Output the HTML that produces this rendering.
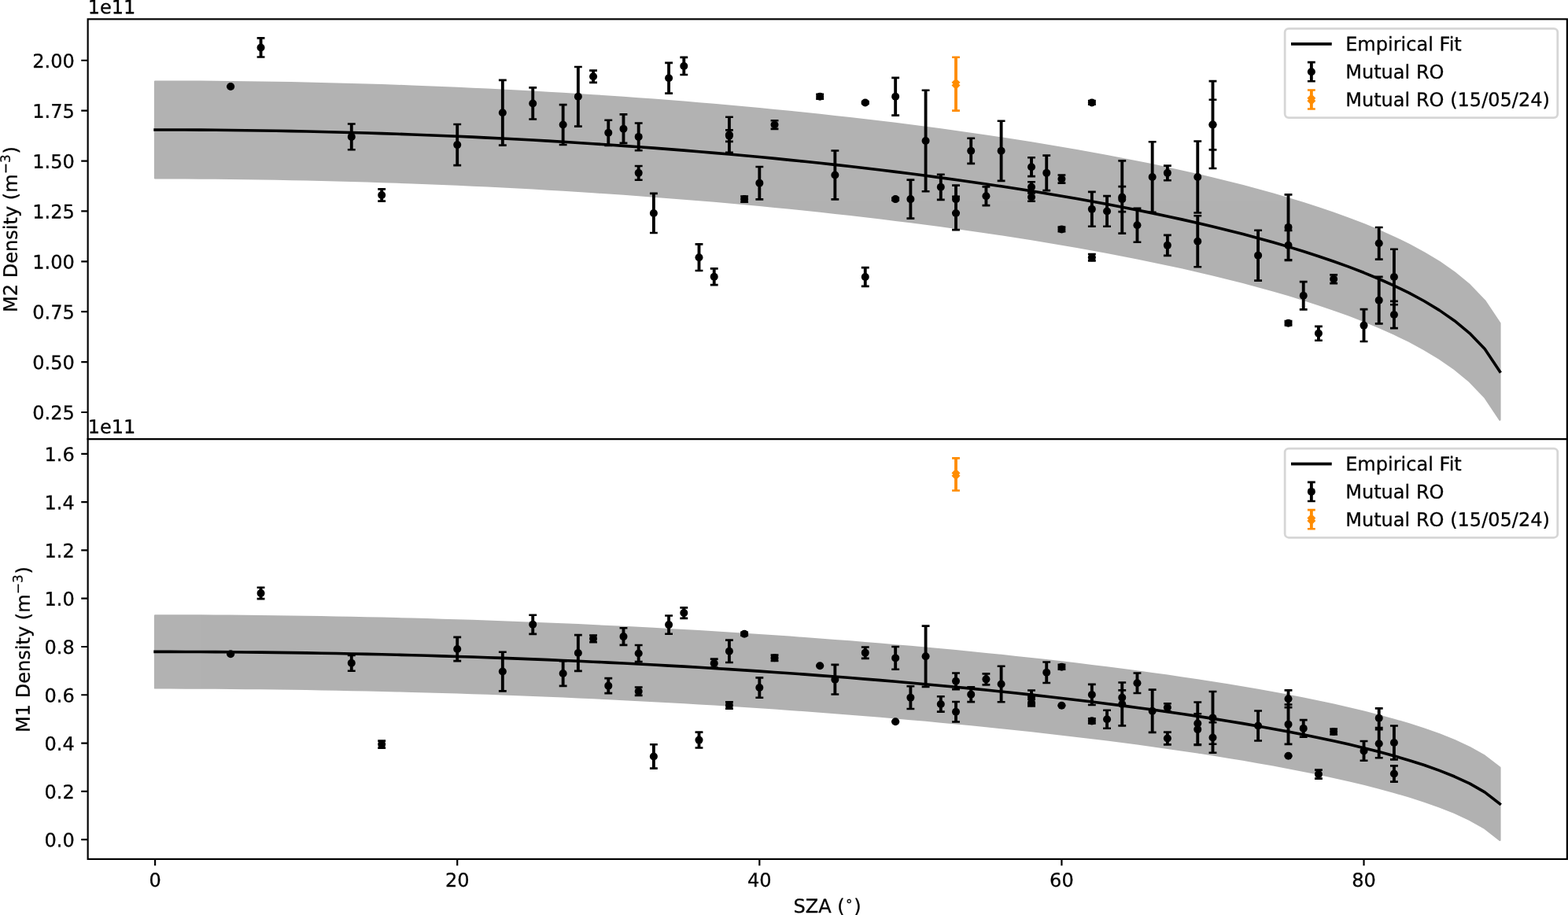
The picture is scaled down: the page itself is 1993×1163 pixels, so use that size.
<!DOCTYPE html>
<html lang="en">
<head>
<meta charset="utf-8">
<title>M2 and M1 density vs SZA</title>
<style>
html,body{margin:0;padding:0;background:#fff}
body{width:1993px;height:1163px;overflow:hidden}
svg{display:block;font-family:"DejaVu Sans","Liberation Sans",sans-serif;font-size:10px;stroke-linecap:butt}
text{fill:#000;stroke:#000;stroke-width:0.12;stroke-linejoin:round}
</style>
</head>
<body>
<svg width="1993" height="1163" viewBox="0 0 828.0208 483.1852">
 <defs>
  <clipPath id="clip1"><rect x="46.387" y="10.108" width="781.156" height="221.742"/></clipPath>
  <clipPath id="clip2"><rect x="46.387" y="231.85" width="781.156" height="221.817"/></clipPath>
 </defs>
 <rect width="100%" height="100%" fill="#fff"/>
 <g id="panel-m2">
  <g class="band" opacity="0.3" clip-path="url(#clip1)">
   <path fill="#000" stroke="#000" stroke-width="1" stroke-linejoin="round" d="M81.89 43.05L81.89 94.01L89.87 94.02L97.85 94.04L105.83 94.09L113.81 94.15L121.79 94.22L129.77 94.32L137.75 94.43L145.73 94.56L153.71 94.7L161.68 94.87L169.66 95.05L177.64 95.25L185.62 95.46L193.6 95.7L201.58 95.95L209.56 96.22L217.54 96.51L225.52 96.81L233.5 97.14L241.48 97.48L249.46 97.84L257.43 98.21L265.41 98.61L273.39 99.03L281.37 99.46L289.35 99.92L297.33 100.39L305.31 100.88L313.29 101.39L321.27 101.92L329.25 102.48L337.23 103.05L345.2 103.64L353.18 104.26L361.16 104.89L369.14 105.55L377.12 106.22L385.1 106.92L393.08 107.65L401.06 108.39L409.04 109.16L417.02 109.95L425 110.77L432.98 111.61L440.95 112.48L448.93 113.37L456.91 114.29L464.89 115.24L472.87 116.21L480.85 117.21L488.83 118.24L496.81 119.31L504.79 120.4L512.77 121.52L520.75 122.68L528.72 123.87L536.7 125.1L544.68 126.36L552.66 127.67L560.64 129.01L568.62 130.39L576.6 131.82L584.58 133.3L592.56 134.82L600.54 136.39L608.52 138.02L616.5 139.7L624.47 141.44L632.45 143.25L640.43 145.13L648.41 147.08L656.39 149.12L664.37 151.24L672.35 153.46L680.33 155.78L688.31 158.22L696.29 160.79L704.27 163.5L712.24 166.38L720.22 169.46L728.2 172.76L736.18 176.32L744.16 180.21L752.14 184.51L760.12 189.33L768.1 194.87L776.08 201.45L784.06 209.76L792.04 221.7L792.04 170.74L792.04 170.74L784.06 158.81L776.08 150.49L768.1 143.91L760.12 138.37L752.14 133.55L744.16 129.25L736.18 125.36L728.2 121.8L720.22 118.5L712.24 115.43L704.27 112.54L696.29 109.83L688.31 107.26L680.33 104.82L672.35 102.5L664.37 100.28L656.39 98.16L648.41 96.13L640.43 94.17L632.45 92.3L624.47 90.49L616.5 88.74L608.52 87.06L600.54 85.43L592.56 83.86L584.58 82.34L576.6 80.86L568.62 79.44L560.64 78.05L552.66 76.71L544.68 75.41L536.7 74.14L528.72 72.91L520.75 71.72L512.77 70.56L504.79 69.44L496.81 68.35L488.83 67.29L480.85 66.25L472.87 65.25L464.89 64.28L456.91 63.33L448.93 62.41L440.95 61.52L432.98 60.66L425 59.81L417.02 59L409.04 58.2L401.06 57.44L393.08 56.69L385.1 55.97L377.12 55.27L369.14 54.59L361.16 53.93L353.18 53.3L345.2 52.68L337.23 52.09L329.25 51.52L321.27 50.97L313.29 50.43L305.31 49.92L297.33 49.43L289.35 48.96L281.37 48.5L273.39 48.07L265.41 47.65L257.43 47.26L249.46 46.88L241.48 46.52L233.5 46.18L225.52 45.85L217.54 45.55L209.56 45.26L201.58 44.99L193.6 44.74L185.62 44.51L177.64 44.29L169.66 44.09L161.68 43.91L153.71 43.75L145.73 43.6L137.75 43.47L129.77 43.36L121.79 43.27L113.81 43.19L105.83 43.13L97.85 43.08L89.87 43.06Z"/>
  </g>
  <g stroke="#000" fill="#000" clip-path="url(#clip1)">
   <path class="bar" stroke-width="1.6" d="M137.75 30.1V20.12M185.62 79.04V65.45M201.58 106.22V99.85M241.48 87.32V65.66M265.41 76.7V42.31M281.37 62.96V46.29M297.33 76.46V55.29M305.31 66.72V35.3M313.29 43.56V37.23M321.27 76.79V63.45M329.25 75.59V60.41M337.23 79.46V65.03M337.23 95.03V87.68M345.2 122.99V102.18M353.18 49.29V33.2M361.16 39.46V30.29M369.14 142.91V128.98M377.12 150.43V141.83M385.1 80.57V61.8M385.1 74.72V68.71M393.08 106.66V103.65M401.06 105.26V88.06M409.04 68.08V63.67M432.98 52.2V49.82M440.95 105.26V79.57M456.91 54.73V53.67M456.91 151.2V141.28M472.87 60.94V41.09M472.87 105.84V104.48M480.85 115.33V94.99M488.83 101.05V47.69M496.81 105.45V92.12M504.79 112.41V97.9M504.79 121.35V103.83M512.77 86.34V73.01M520.75 108.48V98.65M528.72 95.49V63.86M544.68 93.13V83.21M544.68 101.5V96.07M544.68 106.27V101.92M552.66 100.59V82.12M560.64 96.66V92.42M560.64 122.24V119.92M576.6 55.14V53.25M576.6 119.57V101.35M576.6 137.68V134.2M584.58 119.53V103.52M592.56 123.26V84.93M592.56 111.82V98.49M600.54 127.87V110.04M608.52 112.06V74.9M616.5 95.23V87.48M616.5 134.96V124.19M632.45 112.37V74.58M632.45 140.95V113.95M640.43 88.89V42.86M640.43 79.09V52.66M664.37 148.14V121.62M680.33 137.28V102.76M680.33 137.49V121.65M680.33 171.76V169.55M688.31 163.44V148.79M696.29 179.79V172.36M704.27 149.64V145.18M720.22 180.32V163.33M728.2 136.93V120.09M728.2 170.92V146.19M736.18 160.89V131.59M736.18 173.3V159.1"/>
   <path class="cap" stroke-width="1.1" d="M119.74 45.7h4.1M135.7 30.1h4.1M183.57 79.04h4.1M199.53 106.22h4.1M239.43 87.32h4.1M263.36 76.7h4.1M279.32 62.96h4.1M295.28 76.46h4.1M303.26 66.72h4.1M311.24 43.56h4.1M319.22 76.79h4.1M327.2 75.59h4.1M335.18 79.46h4.1M335.18 95.03h4.1M343.15 122.99h4.1M351.13 49.29h4.1M359.11 39.46h4.1M367.09 142.91h4.1M375.07 150.43h4.1M383.05 80.57h4.1M383.05 74.72h4.1M391.03 106.66h4.1M399.01 105.26h4.1M406.99 68.08h4.1M430.93 52.2h4.1M438.9 105.26h4.1M454.86 54.73h4.1M454.86 151.2h4.1M470.82 60.94h4.1M470.82 105.84h4.1M478.8 115.33h4.1M486.78 101.05h4.1M494.76 105.45h4.1M502.74 112.41h4.1M502.74 121.35h4.1M510.72 86.34h4.1M518.7 108.48h4.1M526.67 95.49h4.1M542.63 93.13h4.1M542.63 101.5h4.1M542.63 106.27h4.1M550.61 100.59h4.1M558.59 96.66h4.1M558.59 122.24h4.1M574.55 55.14h4.1M574.55 119.57h4.1M574.55 137.68h4.1M582.53 119.53h4.1M590.51 123.26h4.1M590.51 111.82h4.1M598.49 127.87h4.1M606.47 112.06h4.1M614.45 95.23h4.1M614.45 134.96h4.1M630.4 112.37h4.1M630.4 140.95h4.1M638.38 88.89h4.1M638.38 79.09h4.1M662.32 148.14h4.1M678.28 137.28h4.1M678.28 137.49h4.1M678.28 171.76h4.1M686.26 163.44h4.1M694.24 179.79h4.1M702.22 149.64h4.1M718.17 180.32h4.1M726.15 136.93h4.1M726.15 170.92h4.1M734.13 160.89h4.1M734.13 173.3h4.1M119.74 45.7h4.1M135.7 20.12h4.1M183.57 65.45h4.1M199.53 99.85h4.1M239.43 65.66h4.1M263.36 42.31h4.1M279.32 46.29h4.1M295.28 55.29h4.1M303.26 35.3h4.1M311.24 37.23h4.1M319.22 63.45h4.1M327.2 60.41h4.1M335.18 65.03h4.1M335.18 87.68h4.1M343.15 102.18h4.1M351.13 33.2h4.1M359.11 30.29h4.1M367.09 128.98h4.1M375.07 141.83h4.1M383.05 61.8h4.1M383.05 68.71h4.1M391.03 103.65h4.1M399.01 88.06h4.1M406.99 63.67h4.1M430.93 49.82h4.1M438.9 79.57h4.1M454.86 53.67h4.1M454.86 141.28h4.1M470.82 41.09h4.1M470.82 104.48h4.1M478.8 94.99h4.1M486.78 47.69h4.1M494.76 92.12h4.1M502.74 97.9h4.1M502.74 103.83h4.1M510.72 73.01h4.1M518.7 98.65h4.1M526.67 63.86h4.1M542.63 83.21h4.1M542.63 96.07h4.1M542.63 101.92h4.1M550.61 82.12h4.1M558.59 92.42h4.1M558.59 119.92h4.1M574.55 53.25h4.1M574.55 101.35h4.1M574.55 134.2h4.1M582.53 103.52h4.1M590.51 84.93h4.1M590.51 98.49h4.1M598.49 110.04h4.1M606.47 74.9h4.1M614.45 87.48h4.1M614.45 124.19h4.1M630.4 74.58h4.1M630.4 113.95h4.1M638.38 42.86h4.1M638.38 52.66h4.1M662.32 121.62h4.1M678.28 102.76h4.1M678.28 121.65h4.1M678.28 169.55h4.1M686.26 148.79h4.1M694.24 172.36h4.1M702.22 145.18h4.1M718.17 163.33h4.1M726.15 120.09h4.1M726.15 146.19h4.1M734.13 131.59h4.1M734.13 159.1h4.1"/>
   <g class="pt" stroke="none">
    <circle cx="121.79" cy="45.7" r="2.08"/><circle cx="137.75" cy="25.11" r="2.08"/><circle cx="185.62" cy="72.25" r="2.08"/><circle cx="201.58" cy="103.03" r="2.08"/>
    <circle cx="241.48" cy="76.49" r="2.08"/><circle cx="265.41" cy="59.51" r="2.08"/><circle cx="281.37" cy="54.62" r="2.08"/><circle cx="297.33" cy="65.88" r="2.08"/>
    <circle cx="305.31" cy="51.01" r="2.08"/><circle cx="313.29" cy="40.4" r="2.08"/><circle cx="321.27" cy="70.12" r="2.08"/><circle cx="329.25" cy="68" r="2.08"/>
    <circle cx="337.23" cy="72.25" r="2.08"/><circle cx="337.23" cy="91.35" r="2.08"/><circle cx="345.2" cy="112.59" r="2.08"/><circle cx="353.18" cy="41.25" r="2.08"/>
    <circle cx="361.16" cy="34.88" r="2.08"/><circle cx="369.14" cy="135.94" r="2.08"/><circle cx="377.12" cy="146.13" r="2.08"/><circle cx="385.1" cy="71.18" r="2.08"/>
    <circle cx="385.1" cy="71.71" r="2.08"/><circle cx="393.08" cy="105.16" r="2.08"/><circle cx="401.06" cy="96.66" r="2.08"/><circle cx="409.04" cy="65.88" r="2.08"/>
    <circle cx="432.98" cy="51.01" r="2.08"/><circle cx="440.95" cy="92.42" r="2.08"/><circle cx="456.91" cy="54.2" r="2.08"/><circle cx="456.91" cy="146.24" r="2.08"/>
    <circle cx="472.87" cy="51.01" r="2.08"/><circle cx="472.87" cy="105.16" r="2.08"/><circle cx="480.85" cy="105.16" r="2.08"/><circle cx="488.83" cy="74.37" r="2.08"/>
    <circle cx="496.81" cy="98.79" r="2.08"/><circle cx="504.79" cy="105.16" r="2.08"/><circle cx="504.79" cy="112.59" r="2.08"/><circle cx="512.77" cy="79.68" r="2.08"/>
    <circle cx="520.75" cy="103.56" r="2.08"/><circle cx="528.72" cy="79.68" r="2.08"/><circle cx="544.68" cy="88.17" r="2.08"/><circle cx="544.68" cy="98.79" r="2.08"/>
    <circle cx="544.68" cy="104.09" r="2.08"/><circle cx="552.66" cy="91.35" r="2.08"/><circle cx="560.64" cy="94.54" r="2.08"/><circle cx="560.64" cy="121.08" r="2.08"/>
    <circle cx="576.6" cy="54.2" r="2.08"/><circle cx="576.6" cy="110.46" r="2.08"/><circle cx="576.6" cy="135.94" r="2.08"/><circle cx="584.58" cy="111.53" r="2.08"/>
    <circle cx="592.56" cy="104.09" r="2.08"/><circle cx="592.56" cy="105.16" r="2.08"/><circle cx="600.54" cy="118.96" r="2.08"/><circle cx="608.52" cy="93.48" r="2.08"/>
    <circle cx="616.5" cy="91.35" r="2.08"/><circle cx="616.5" cy="129.57" r="2.08"/><circle cx="632.45" cy="93.48" r="2.08"/><circle cx="632.45" cy="127.45" r="2.08"/>
    <circle cx="640.43" cy="65.88" r="2.08"/><circle cx="640.43" cy="65.88" r="2.08"/><circle cx="664.37" cy="134.88" r="2.08"/><circle cx="680.33" cy="120.02" r="2.08"/>
    <circle cx="680.33" cy="129.57" r="2.08"/><circle cx="680.33" cy="170.66" r="2.08"/><circle cx="688.31" cy="156.11" r="2.08"/><circle cx="696.29" cy="176.07" r="2.08"/>
    <circle cx="704.27" cy="147.41" r="2.08"/><circle cx="720.22" cy="171.83" r="2.08"/><circle cx="728.2" cy="128.51" r="2.08"/><circle cx="728.2" cy="158.56" r="2.08"/>
    <circle cx="736.18" cy="146.24" r="2.08"/><circle cx="736.18" cy="166.2" r="2.08"/>
   </g>
  </g>
  <g stroke="#ff8c00" fill="#ff8c00" clip-path="url(#clip1)">
   <path class="bar" stroke-width="1.6" d="M504.79 58.41V30.24"/>
   <path class="cap" stroke-width="1.1" d="M502.74 58.41h4.1M502.74 30.24h4.1"/>
   <path class="pt" stroke-width="1.1" stroke-linejoin="miter" d="M504.04 45.82L504.79 45.07L505.54 45.82L506.29 45.07L505.54 44.32L506.29 43.57L505.54 42.82L504.79 43.57L504.04 42.82L503.29 43.57L504.04 44.32L503.29 45.07Z"/>
  </g>
  <path class="fit" fill="none" stroke="#000" stroke-width="1.5" stroke-linecap="square" stroke-linejoin="round" clip-path="url(#clip1)" d="M81.89 68.53L89.87 68.54L97.85 68.56L105.83 68.61L113.81 68.67L121.79 68.74L129.77 68.84L137.75 68.95L145.73 69.08L153.71 69.23L161.68 69.39L169.66 69.57L177.64 69.77L185.62 69.99L193.6 70.22L201.58 70.47L209.56 70.74L217.54 71.03L225.52 71.33L233.5 71.66L241.48 72L249.46 72.36L257.43 72.74L265.41 73.13L273.39 73.55L281.37 73.98L289.35 74.44L297.33 74.91L305.31 75.4L313.29 75.91L321.27 76.45L329.25 77L337.23 77.57L345.2 78.16L353.18 78.78L361.16 79.41L369.14 80.07L377.12 80.75L385.1 81.45L393.08 82.17L401.06 82.91L409.04 83.68L417.02 84.48L425 85.29L432.98 86.13L440.95 87L448.93 87.89L456.91 88.81L464.89 89.76L472.87 90.73L480.85 91.73L488.83 92.77L496.81 93.83L504.79 94.92L512.77 96.04L520.75 97.2L528.72 98.39L536.7 99.62L544.68 100.88L552.66 102.19L560.64 103.53L568.62 104.91L576.6 106.34L584.58 107.82L592.56 109.34L600.54 110.91L608.52 112.54L616.5 114.22L624.47 115.97L632.45 117.77L640.43 119.65L648.41 121.61L656.39 123.64L664.37 125.76L672.35 127.98L680.33 130.3L688.31 132.74L696.29 135.31L704.27 138.02L712.24 140.9L720.22 143.98L728.2 147.28L736.18 150.84L744.16 154.73L752.14 159.03L760.12 163.85L768.1 169.39L776.08 175.97L784.06 184.28L792.04 196.22"/>
  <g class="axis" stroke="#000" stroke-width="0.9" fill="none">
   <rect x="46.387" y="10.108" width="781.156" height="221.742" stroke-linejoin="miter"/>
   <path d="M46.387 217.69h-3.5M46.387 191.15h-3.5M46.387 164.61h-3.5M46.387 138.07h-3.5M46.387 111.53h-3.5M46.387 84.98h-3.5M46.387 58.44h-3.5M46.387 31.9h-3.5"/>
  </g>
  <g class="yticks" text-anchor="end">
   <text x="39.39" y="221.49" transform="rotate(0.03 39.39 221.49)">0.25</text>
   <text x="39.39" y="194.95" transform="rotate(0.03 39.39 194.95)">0.50</text>
   <text x="39.39" y="168.41" transform="rotate(0.03 39.39 168.41)">0.75</text>
   <text x="39.39" y="141.87" transform="rotate(0.03 39.39 141.87)">1.00</text>
   <text x="39.39" y="115.32" transform="rotate(0.03 39.39 115.32)">1.25</text>
   <text x="39.39" y="88.78" transform="rotate(0.03 39.39 88.78)">1.50</text>
   <text x="39.39" y="62.24" transform="rotate(0.03 39.39 62.24)">1.75</text>
   <text x="39.39" y="35.7" transform="rotate(0.03 39.39 35.7)">2.00</text>
  </g>
  <text class="offset" x="46.39" y="7.11" transform="rotate(0.03 46.39 7.11)">1e11</text>
  <text class="label" transform="translate(10.02 164.92) rotate(-89.97)"><tspan x="0" y="-0.98">M2 Density (m</tspan><tspan x="73.1" y="-4.8" font-size="7">−3</tspan><tspan x="83.7" y="-0.98">)</tspan></text>
  <g class="legend">
   <rect x="678.52" y="15.11" width="144.02" height="47.03" rx="2" fill="#fff" fill-opacity="0.8" stroke="#ccc" stroke-opacity="0.8" stroke-width="1.15"/>
   <path stroke="#000" stroke-width="1.5" stroke-linecap="square" d="M682.52 23.21H702.52"/>
   <g stroke="#000" fill="#000">
    <path class="bar" stroke-width="1.6" d="M692.52 42.88V32.88"/>
    <path class="cap" stroke-width="1.1" d="M690.47 42.88h4.1M690.47 32.88h4.1"/>
    <g class="pt" stroke="none">
     <circle cx="692.52" cy="37.88" r="2.08"/>
    </g>
   </g>
   <g stroke="#ff8c00" fill="#ff8c00">
    <path class="bar" stroke-width="1.6" d="M692.52 57.56V47.56"/>
    <path class="cap" stroke-width="1.1" d="M690.47 57.56h4.1M690.47 47.56h4.1"/>
    <path class="pt" stroke-width="1.1" stroke-linejoin="miter" d="M691.77 54.06L692.52 53.31L693.27 54.06L694.02 53.31L693.27 52.56L694.02 51.81L693.27 51.06L692.52 51.81L691.77 51.06L691.02 51.81L691.77 52.56L691.02 53.31Z"/>
   </g>
   <text x="710.52" y="26.71" transform="rotate(0.03 710.52 26.71)">Empirical Fit</text>
   <text x="710.52" y="41.38" transform="rotate(0.03 710.52 41.38)">Mutual RO</text>
   <text x="710.52" y="56.06" transform="rotate(0.03 710.52 56.06)">Mutual RO (15/05/24)</text>
  </g>
 </g>
 <g id="panel-m1">
  <g class="band" opacity="0.3" clip-path="url(#clip2)">
   <path fill="#000" stroke="#000" stroke-width="1" stroke-linejoin="round" d="M81.89 325.08L81.89 363.28L89.87 363.28L97.85 363.3L105.83 363.33L113.81 363.38L121.79 363.43L129.77 363.5L137.75 363.58L145.73 363.67L153.71 363.78L161.68 363.9L169.66 364.03L177.64 364.17L185.62 364.33L193.6 364.5L201.58 364.68L209.56 364.87L217.54 365.08L225.52 365.3L233.5 365.53L241.48 365.77L249.46 366.03L257.43 366.3L265.41 366.59L273.39 366.89L281.37 367.2L289.35 367.52L297.33 367.86L305.31 368.21L313.29 368.58L321.27 368.96L329.25 369.35L337.23 369.76L345.2 370.18L353.18 370.62L361.16 371.07L369.14 371.53L377.12 372.01L385.1 372.51L393.08 373.02L401.06 373.54L409.04 374.09L417.02 374.64L425 375.22L432.98 375.81L440.95 376.42L448.93 377.04L456.91 377.68L464.89 378.34L472.87 379.02L480.85 379.72L488.83 380.43L496.81 381.17L504.79 381.92L512.77 382.7L520.75 383.49L528.72 384.31L536.7 385.15L544.68 386.01L552.66 386.9L560.64 387.81L568.62 388.75L576.6 389.72L584.58 390.71L592.56 391.73L600.54 392.79L608.52 393.87L616.5 394.99L624.47 396.15L632.45 397.34L640.43 398.58L648.41 399.86L656.39 401.18L664.37 402.56L672.35 403.99L680.33 405.48L688.31 407.03L696.29 408.66L704.27 410.37L712.24 412.17L720.22 414.08L728.2 416.11L736.18 418.28L744.16 420.62L752.14 423.17L760.12 425.99L768.1 429.17L776.08 432.87L784.06 437.4L792.04 443.6L792.04 405.4L792.04 405.4L784.06 399.2L776.08 394.68L768.1 390.98L760.12 387.79L752.14 384.97L744.16 382.42L736.18 380.08L728.2 377.91L720.22 375.88L712.24 373.97L704.27 372.17L696.29 370.46L688.31 368.83L680.33 367.28L672.35 365.79L664.37 364.36L656.39 362.98L648.41 361.66L640.43 360.38L632.45 359.14L624.47 357.95L616.5 356.79L608.52 355.67L600.54 354.59L592.56 353.54L584.58 352.51L576.6 351.52L568.62 350.55L560.64 349.62L552.66 348.7L544.68 347.82L536.7 346.95L528.72 346.11L520.75 345.29L512.77 344.5L504.79 343.72L496.81 342.97L488.83 342.23L480.85 341.52L472.87 340.82L464.89 340.14L456.91 339.48L448.93 338.84L440.95 338.22L432.98 337.61L425 337.02L417.02 336.45L409.04 335.89L401.06 335.35L393.08 334.82L385.1 334.31L377.12 333.81L369.14 333.33L361.16 332.87L353.18 332.42L345.2 331.98L337.23 331.56L329.25 331.15L321.27 330.76L313.29 330.38L305.31 330.01L297.33 329.66L289.35 329.32L281.37 329L273.39 328.69L265.41 328.39L257.43 328.11L249.46 327.83L241.48 327.58L233.5 327.33L225.52 327.1L217.54 326.88L209.56 326.67L201.58 326.48L193.6 326.3L185.62 326.13L177.64 325.97L169.66 325.83L161.68 325.7L153.71 325.58L145.73 325.48L137.75 325.38L129.77 325.3L121.79 325.23L113.81 325.18L105.83 325.13L97.85 325.1L89.87 325.09Z"/>
  </g>
  <g stroke="#000" fill="#000" clip-path="url(#clip2)">
   <path class="bar" stroke-width="1.6" d="M137.75 316.22V310.26M185.62 354.3V346.02M201.58 394.96V391.19M241.48 349.07V336.49M265.41 364.91V344.33M281.37 334.79V324.79M297.33 362.25V349.03M305.31 354.31V335.32M313.29 339.14V335.47M321.27 366.08V358.18M329.25 340.65V331.66M337.23 349.47V340.66M337.23 367.21V362.91M345.2 405.73V393.15M353.18 334.74V325.09M361.16 326.48V320.88M369.14 394.92V386.64M377.12 352.58V348M385.1 349.81V338.04M385.1 374.16V370.73M393.08 335.52V333.99M401.06 368.43V357.87M409.04 348.95V345.9M440.95 366.63V351.02M456.91 347.67V341.71M472.87 353.46V341.52M480.85 374.34V362.4M488.83 362.67V330.53M496.81 375.81V367.81M504.79 363.98V355.45M504.79 381.17V370.6M512.77 370.62V362.81M520.75 361.58V355.8M528.72 370.7V351.78M544.68 371.68V364.55M544.68 372.85V369.36M552.66 360.64V349.61M560.64 353.41V350.99M576.6 372.25V361.43M576.6 381.99V379.45M584.58 384.62V375.04M592.56 383.22V360.4M592.56 372.25V364.49M600.54 366.01V355.45M608.52 386.77V364.23M616.5 375.73V371.55M616.5 393.16V386.62M632.45 393.2V370.79M632.45 393.42V376.94M640.43 392.94V365.19M640.43 397.49V381.52M664.37 391.17V375.36M680.33 373.53V364.49M680.33 392.96V372.05M688.31 389.12V380.21M696.29 411.15V406.57M704.27 387.85V384.92M720.22 401.67V391.35M728.2 384.29V374.1M728.2 400.21V385.16M736.18 401.09V383.27M736.18 412.83V404.38"/>
   <path class="cap" stroke-width="1.1" d="M119.74 345.32h4.1M135.7 316.22h4.1M183.57 354.3h4.1M199.53 394.96h4.1M239.43 349.07h4.1M263.36 364.91h4.1M279.32 334.79h4.1M295.28 362.25h4.1M303.26 354.31h4.1M311.24 339.14h4.1M319.22 366.08h4.1M327.2 340.65h4.1M335.18 349.47h4.1M335.18 367.21h4.1M343.15 405.73h4.1M351.13 334.74h4.1M359.11 326.48h4.1M367.09 394.92h4.1M375.07 352.58h4.1M383.05 349.81h4.1M383.05 374.16h4.1M391.03 335.52h4.1M399.01 368.43h4.1M406.99 348.95h4.1M430.93 351.56h4.1M438.9 366.63h4.1M454.86 347.67h4.1M470.82 353.46h4.1M470.82 381.1h4.1M478.8 374.34h4.1M486.78 362.67h4.1M494.76 375.81h4.1M502.74 363.98h4.1M502.74 381.17h4.1M510.72 370.62h4.1M518.7 361.58h4.1M526.67 370.7h4.1M542.63 371.68h4.1M542.63 372.85h4.1M550.61 360.64h4.1M558.59 353.41h4.1M558.59 372.57h4.1M574.55 372.25h4.1M574.55 381.99h4.1M582.53 384.62h4.1M590.51 383.22h4.1M590.51 372.25h4.1M598.49 366.01h4.1M606.47 386.77h4.1M614.45 375.73h4.1M614.45 393.16h4.1M630.4 393.2h4.1M630.4 393.42h4.1M638.38 392.94h4.1M638.38 397.49h4.1M662.32 391.17h4.1M678.28 373.53h4.1M678.28 392.96h4.1M678.28 399.18h4.1M686.26 389.12h4.1M694.24 411.15h4.1M702.22 387.85h4.1M718.17 401.67h4.1M726.15 384.29h4.1M726.15 400.21h4.1M734.13 401.09h4.1M734.13 412.83h4.1M119.74 345.32h4.1M135.7 310.26h4.1M183.57 346.02h4.1M199.53 391.19h4.1M239.43 336.49h4.1M263.36 344.33h4.1M279.32 324.79h4.1M295.28 349.03h4.1M303.26 335.32h4.1M311.24 335.47h4.1M319.22 358.18h4.1M327.2 331.66h4.1M335.18 340.66h4.1M335.18 362.91h4.1M343.15 393.15h4.1M351.13 325.09h4.1M359.11 320.88h4.1M367.09 386.64h4.1M375.07 348h4.1M383.05 338.04h4.1M383.05 370.73h4.1M391.03 333.99h4.1M399.01 357.87h4.1M406.99 345.9h4.1M430.93 351.56h4.1M438.9 351.02h4.1M454.86 341.71h4.1M470.82 341.52h4.1M470.82 381.1h4.1M478.8 362.4h4.1M486.78 330.53h4.1M494.76 367.81h4.1M502.74 355.45h4.1M502.74 370.6h4.1M510.72 362.81h4.1M518.7 355.8h4.1M526.67 351.78h4.1M542.63 364.55h4.1M542.63 369.36h4.1M550.61 349.61h4.1M558.59 350.99h4.1M558.59 372.57h4.1M574.55 361.43h4.1M574.55 379.45h4.1M582.53 375.04h4.1M590.51 360.4h4.1M590.51 364.49h4.1M598.49 355.45h4.1M606.47 364.23h4.1M614.45 371.55h4.1M614.45 386.62h4.1M630.4 370.79h4.1M630.4 376.94h4.1M638.38 365.19h4.1M638.38 381.52h4.1M662.32 375.36h4.1M678.28 364.49h4.1M678.28 372.05h4.1M678.28 399.18h4.1M686.26 380.21h4.1M694.24 406.57h4.1M702.22 384.92h4.1M718.17 391.35h4.1M726.15 374.1h4.1M726.15 385.16h4.1M734.13 383.27h4.1M734.13 404.38h4.1"/>
   <g class="pt" stroke="none">
    <circle cx="121.79" cy="345.32" r="2.08"/><circle cx="137.75" cy="313.24" r="2.08"/><circle cx="185.62" cy="350.16" r="2.08"/><circle cx="201.58" cy="393.07" r="2.08"/>
    <circle cx="241.48" cy="342.78" r="2.08"/><circle cx="265.41" cy="354.62" r="2.08"/><circle cx="281.37" cy="329.79" r="2.08"/><circle cx="297.33" cy="355.64" r="2.08"/>
    <circle cx="305.31" cy="344.81" r="2.08"/><circle cx="313.29" cy="337.3" r="2.08"/><circle cx="321.27" cy="362.13" r="2.08"/><circle cx="329.25" cy="336.16" r="2.08"/>
    <circle cx="337.23" cy="345.07" r="2.08"/><circle cx="337.23" cy="365.06" r="2.08"/><circle cx="345.2" cy="399.44" r="2.08"/><circle cx="353.18" cy="329.92" r="2.08"/>
    <circle cx="361.16" cy="323.68" r="2.08"/><circle cx="369.14" cy="390.78" r="2.08"/><circle cx="377.12" cy="350.29" r="2.08"/><circle cx="385.1" cy="343.92" r="2.08"/>
    <circle cx="385.1" cy="372.44" r="2.08"/><circle cx="393.08" cy="334.76" r="2.08"/><circle cx="401.06" cy="363.15" r="2.08"/><circle cx="409.04" cy="347.42" r="2.08"/>
    <circle cx="432.98" cy="351.56" r="2.08"/><circle cx="440.95" cy="358.82" r="2.08"/><circle cx="456.91" cy="344.69" r="2.08"/><circle cx="472.87" cy="347.49" r="2.08"/>
    <circle cx="472.87" cy="381.1" r="2.08"/><circle cx="480.85" cy="368.37" r="2.08"/><circle cx="488.83" cy="346.6" r="2.08"/><circle cx="496.81" cy="371.81" r="2.08"/>
    <circle cx="504.79" cy="359.71" r="2.08"/><circle cx="504.79" cy="375.88" r="2.08"/><circle cx="512.77" cy="366.71" r="2.08"/><circle cx="520.75" cy="358.69" r="2.08"/>
    <circle cx="528.72" cy="361.24" r="2.08"/><circle cx="544.68" cy="368.12" r="2.08"/><circle cx="544.68" cy="371.11" r="2.08"/><circle cx="552.66" cy="355.13" r="2.08"/>
    <circle cx="560.64" cy="352.2" r="2.08"/><circle cx="560.64" cy="372.57" r="2.08"/><circle cx="576.6" cy="366.84" r="2.08"/><circle cx="576.6" cy="380.72" r="2.08"/>
    <circle cx="584.58" cy="379.83" r="2.08"/><circle cx="592.56" cy="371.81" r="2.08"/><circle cx="592.56" cy="368.37" r="2.08"/><circle cx="600.54" cy="360.73" r="2.08"/>
    <circle cx="608.52" cy="375.5" r="2.08"/><circle cx="616.5" cy="373.64" r="2.08"/><circle cx="616.5" cy="389.89" r="2.08"/><circle cx="632.45" cy="381.99" r="2.08"/>
    <circle cx="632.45" cy="385.18" r="2.08"/><circle cx="640.43" cy="379.07" r="2.08"/><circle cx="640.43" cy="389.51" r="2.08"/><circle cx="664.37" cy="383.27" r="2.08"/>
    <circle cx="680.33" cy="369.01" r="2.08"/><circle cx="680.33" cy="382.5" r="2.08"/><circle cx="680.33" cy="399.18" r="2.08"/><circle cx="688.31" cy="384.67" r="2.08"/>
    <circle cx="696.29" cy="408.86" r="2.08"/><circle cx="704.27" cy="386.39" r="2.08"/><circle cx="720.22" cy="396.51" r="2.08"/><circle cx="728.2" cy="379.19" r="2.08"/>
    <circle cx="728.2" cy="392.69" r="2.08"/><circle cx="736.18" cy="392.18" r="2.08"/><circle cx="736.18" cy="408.61" r="2.08"/>
   </g>
  </g>
  <g stroke="#ff8c00" fill="#ff8c00" clip-path="url(#clip2)">
   <path class="bar" stroke-width="1.6" d="M504.79 259.03V241.97"/>
   <path class="cap" stroke-width="1.1" d="M502.74 259.03h4.1M502.74 241.97h4.1"/>
   <path class="pt" stroke-width="1.1" stroke-linejoin="miter" d="M504.04 252L504.79 251.25L505.54 252L506.29 251.25L505.54 250.5L506.29 249.75L505.54 249L504.79 249.75L504.04 249L503.29 249.75L504.04 250.5L503.29 251.25Z"/>
  </g>
  <path class="fit" fill="none" stroke="#000" stroke-width="1.5" stroke-linecap="square" stroke-linejoin="round" clip-path="url(#clip2)" d="M81.89 344.18L89.87 344.18L97.85 344.2L105.83 344.23L113.81 344.28L121.79 344.33L129.77 344.4L137.75 344.48L145.73 344.57L153.71 344.68L161.68 344.8L169.66 344.93L177.64 345.07L185.62 345.23L193.6 345.4L201.58 345.58L209.56 345.77L217.54 345.98L225.52 346.2L233.5 346.43L241.48 346.68L249.46 346.93L257.43 347.21L265.41 347.49L273.39 347.79L281.37 348.1L289.35 348.42L297.33 348.76L305.31 349.11L313.29 349.48L321.27 349.86L329.25 350.25L337.23 350.66L345.2 351.08L353.18 351.52L361.16 351.97L369.14 352.43L377.12 352.91L385.1 353.41L393.08 353.92L401.06 354.45L409.04 354.99L417.02 355.54L425 356.12L432.98 356.71L440.95 357.32L448.93 357.94L456.91 358.58L464.89 359.24L472.87 359.92L480.85 360.62L488.83 361.33L496.81 362.07L504.79 362.82L512.77 363.6L520.75 364.39L528.72 365.21L536.7 366.05L544.68 366.91L552.66 367.8L560.64 368.71L568.62 369.65L576.6 370.62L584.58 371.61L592.56 372.63L600.54 373.69L608.52 374.77L616.5 375.89L624.47 377.05L632.45 378.24L640.43 379.48L648.41 380.76L656.39 382.08L664.37 383.46L672.35 384.89L680.33 386.38L688.31 387.93L696.29 389.56L704.27 391.27L712.24 393.07L720.22 394.98L728.2 397.01L736.18 399.18L744.16 401.52L752.14 404.07L760.12 406.89L768.1 410.07L776.08 413.77L784.06 418.3L792.04 424.5"/>
  <g class="axis" stroke="#000" stroke-width="0.9" fill="none">
   <rect x="46.387" y="231.85" width="781.156" height="221.817" stroke-linejoin="miter"/>
   <path d="M46.387 443.37h-3.5M46.387 417.9h-3.5M46.387 392.43h-3.5M46.387 366.97h-3.5M46.387 341.5h-3.5M46.387 316.04h-3.5M46.387 290.57h-3.5M46.387 265.11h-3.5M46.387 239.64h-3.5"/>
   <path d="M81.89 453.666v3.5M241.48 453.666v3.5M401.06 453.666v3.5M560.64 453.666v3.5M720.22 453.666v3.5"/>
  </g>
  <g class="yticks" text-anchor="end">
   <text x="39.39" y="447.16" transform="rotate(0.03 39.39 447.16)">0.0</text>
   <text x="39.39" y="421.7" transform="rotate(0.03 39.39 421.7)">0.2</text>
   <text x="39.39" y="396.23" transform="rotate(0.03 39.39 396.23)">0.4</text>
   <text x="39.39" y="370.77" transform="rotate(0.03 39.39 370.77)">0.6</text>
   <text x="39.39" y="345.3" transform="rotate(0.03 39.39 345.3)">0.8</text>
   <text x="39.39" y="319.84" transform="rotate(0.03 39.39 319.84)">1.0</text>
   <text x="39.39" y="294.37" transform="rotate(0.03 39.39 294.37)">1.2</text>
   <text x="39.39" y="268.91" transform="rotate(0.03 39.39 268.91)">1.4</text>
   <text x="39.39" y="243.44" transform="rotate(0.03 39.39 243.44)">1.6</text>
  </g>
  <g class="xticks" text-anchor="middle">
   <text x="81.89" y="468.26" transform="rotate(0.03 81.89 468.26)">0</text>
   <text x="241.48" y="468.26" transform="rotate(0.03 241.48 468.26)">20</text>
   <text x="401.06" y="468.26" transform="rotate(0.03 401.06 468.26)">40</text>
   <text x="560.64" y="468.26" transform="rotate(0.03 560.64 468.26)">60</text>
   <text x="720.22" y="468.26" transform="rotate(0.03 720.22 468.26)">80</text>
  </g>
  <text class="offset" x="46.39" y="228.85" transform="rotate(0.03 46.39 228.85)">1e11</text>
  <text class="label" transform="translate(419 482.35) rotate(0.03)"><tspan x="0" y="-0.41">SZA (</tspan><tspan x="27.21" y="-4.23" font-size="7">∘</tspan><tspan x="31.87" y="-0.41">)</tspan></text>
  <text class="label" transform="translate(16.61 386.79) rotate(-89.97)"><tspan x="0" y="-0.98">M1 Density (m</tspan><tspan x="73.1" y="-4.8" font-size="7">−3</tspan><tspan x="83.7" y="-0.98">)</tspan></text>
  <g class="legend">
   <rect x="678.52" y="236.85" width="144.02" height="47.03" rx="2" fill="#fff" fill-opacity="0.8" stroke="#ccc" stroke-opacity="0.8" stroke-width="1.15"/>
   <path stroke="#000" stroke-width="1.5" stroke-linecap="square" d="M682.52 244.95H702.52"/>
   <g stroke="#000" fill="#000">
    <path class="bar" stroke-width="1.6" d="M692.52 264.63V254.63"/>
    <path class="cap" stroke-width="1.1" d="M690.47 264.63h4.1M690.47 254.63h4.1"/>
    <g class="pt" stroke="none">
     <circle cx="692.52" cy="259.63" r="2.08"/>
    </g>
   </g>
   <g stroke="#ff8c00" fill="#ff8c00">
    <path class="bar" stroke-width="1.6" d="M692.52 279.3V269.3"/>
    <path class="cap" stroke-width="1.1" d="M690.47 279.3h4.1M690.47 269.3h4.1"/>
    <path class="pt" stroke-width="1.1" stroke-linejoin="miter" d="M691.77 275.8L692.52 275.05L693.27 275.8L694.02 275.05L693.27 274.3L694.02 273.55L693.27 272.8L692.52 273.55L691.77 272.8L691.02 273.55L691.77 274.3L691.02 275.05Z"/>
   </g>
   <text x="710.52" y="248.45" transform="rotate(0.03 710.52 248.45)">Empirical Fit</text>
   <text x="710.52" y="263.13" transform="rotate(0.03 710.52 263.13)">Mutual RO</text>
   <text x="710.52" y="277.8" transform="rotate(0.03 710.52 277.8)">Mutual RO (15/05/24)</text>
  </g>
 </g>
</svg>
</body>
</html>
